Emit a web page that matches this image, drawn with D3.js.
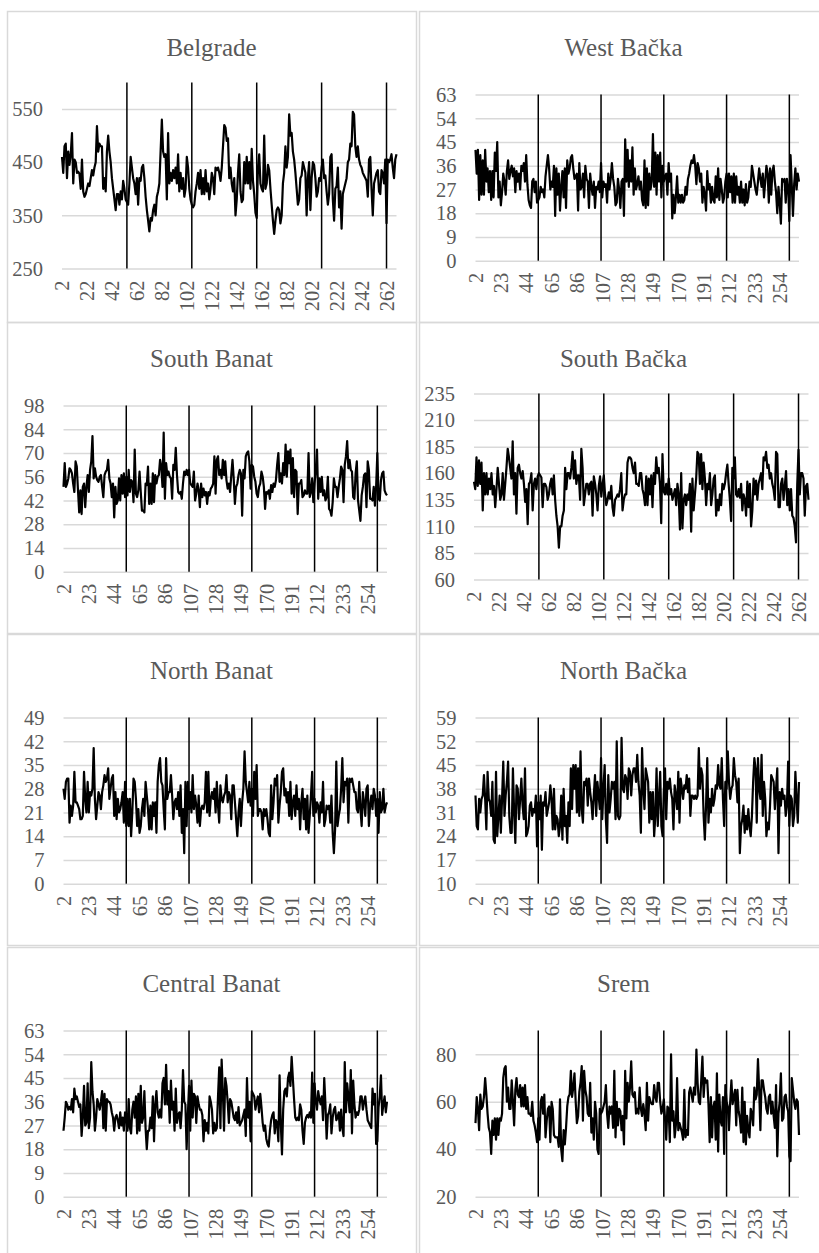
<!DOCTYPE html>
<html>
<head>
<meta charset="utf-8">
<script src="https://cdn.jsdelivr.net/npm/d3@7"></script>
<style>
  body { margin: 0; background: #fff; }
  svg { display: block; }
  svg text { font-family: "Liberation Serif", "Times New Roman", serif; }
</style>
</head>
<body>
<svg></svg>
<script>
///////////////////////////////////////////
///////////////////////////////////////////
// Data (weekly series, weeks 2..270)
var weeks = d3.range(2, 271);
var yearMarks = [54, 106, 158, 210, 262];
var ticksBy20 = [2, 22, 42, 62, 82, 102, 122, 142, 162, 182, 202, 222, 242, 262];
var ticksBy21 = [2, 23, 44, 65, 86, 107, 128, 149, 170, 191, 212, 233, 254];

var belgrade = [
  460, 430, 480, 485, 420, 470, 445, 465, 505, 410,
  455, 450, 430, 432, 428, 400, 455, 395, 385, 390,
  400, 410, 405, 420, 435, 425, 440, 450, 518, 470,
  485, 480, 480, 400, 420, 395, 470, 500, 470, 450,
  420, 400, 380, 360, 390, 390, 370, 395, 380, 415,
  400, 380, 375, 370, 410, 460, 440, 420, 410, 390,
  420, 370, 420, 415, 440, 445, 420, 385, 360, 340,
  320, 345, 340, 360, 370, 350, 385, 395, 410, 470,
  530, 470, 460, 465, 380, 505, 410, 430, 415, 435,
  420, 440, 410, 465, 395, 430, 400, 420, 385, 400,
  460, 440, 400, 380, 370, 365, 370, 395, 410, 430,
  400, 435, 390, 420, 390, 435, 395, 410, 380, 400,
  430, 420, 390, 440, 435, 440, 430, 415, 440, 480,
  520, 515, 490, 495, 420, 440, 410, 395, 420, 350,
  380, 430, 465, 395, 375, 380, 450, 410, 460, 410,
  450, 400, 475, 415, 390, 355, 345, 440, 465, 410,
  400, 395, 500, 400, 410, 445, 435, 400, 370, 340,
  315, 340, 360, 365, 360, 335, 350, 410, 430, 480,
  440, 460, 540, 500, 505, 470, 455, 430, 400, 370,
  380, 420, 425, 450, 440, 430, 350, 420, 450, 360,
  420, 450, 445, 420, 385, 395, 420, 415, 440, 455,
  420, 425, 395, 370, 390, 460, 465, 380, 340, 400,
  405, 440, 365, 395, 325, 390, 400, 410, 420, 450,
  455, 485, 480, 545, 540, 480, 460, 480, 455, 445,
  440, 430, 425, 420, 415, 385, 455, 460, 400, 350,
  410, 420, 430, 435, 395, 390, 435, 430, 410, 455,
  335, 455, 450, 455, 465, 440, 420, 455, 465
];

var westBacka = [
  42, 33, 42, 23, 40, 25, 38, 25, 42, 30,
  35, 26, 34, 23, 34, 24, 41, 34, 45, 24,
  30, 21, 26, 33, 30, 25, 34, 38, 31, 34,
  36, 32, 35, 26, 34, 30, 33, 27, 36, 34,
  37, 30, 40, 29, 23, 21, 20, 30, 31, 26,
  30, 22, 23, 24, 28, 26, 27, 24, 32, 36,
  40, 35, 27, 30, 28, 36, 17, 35, 25, 33,
  19, 28, 34, 24, 35, 20, 38, 33, 35, 39,
  40, 35, 31, 32, 33, 19, 37, 27, 28, 33,
  24, 36, 31, 30, 20, 33, 28, 25, 30, 20,
  28, 27, 30, 26, 37, 24, 30, 28, 29, 22,
  33, 27, 31, 37, 31, 28, 21, 22, 31, 27,
  20, 30, 31, 17, 46, 30, 42, 28, 38, 30,
  43, 25, 35, 27, 29, 32, 27, 30, 23, 21,
  38, 20, 35, 21, 33, 27, 30, 48, 28, 41,
  25, 40, 30, 41, 24, 36, 30, 32, 33, 25,
  37, 30, 33, 16, 25, 18, 24, 32, 22, 25,
  22, 25, 22, 23, 28, 25, 31, 33, 36, 38,
  37, 40, 36, 29, 37, 35, 30, 33, 22, 28,
  25, 19, 34, 27, 29, 22, 28, 23, 22, 32,
  24, 35, 23, 31, 27, 22, 24, 30, 33, 24,
  33, 26, 32, 22, 33, 22, 32, 25, 28, 22,
  30, 22, 27, 21, 29, 22, 24, 30, 28, 36,
  33, 30, 27, 25, 30, 35, 31, 28, 33, 24,
  30, 36, 33, 22, 35, 25, 34, 36, 30, 26,
  18, 28, 22, 14, 31, 30, 31, 22, 31, 28,
  15, 40, 29, 17, 29, 35, 27, 33, 30
];

var southBanat = [
  50, 64, 50, 52, 55, 61, 60, 58, 52, 47,
  65, 62, 48, 35, 48, 34, 50, 52, 38, 50,
  57, 47, 60, 65, 80, 55, 61, 56, 54, 53,
  56, 57, 50, 44, 57, 59, 60, 66, 55, 52,
  44, 52, 32, 50, 40, 42, 55, 42, 57, 46,
  58, 44, 56, 45, 60, 47, 54, 53, 41, 72,
  46, 44, 48, 59, 47, 36, 36, 35, 52, 51,
  62, 40, 52, 40, 58, 41, 57, 52, 56, 57,
  66, 62, 50, 82, 43, 64, 57, 59, 56, 55,
  43, 63, 60, 73, 57, 47, 46, 47, 43, 52,
  59, 57, 60, 57, 60, 52, 51, 50, 59, 42,
  46, 52, 48, 38, 52, 44, 49, 45, 47, 40,
  47, 45, 49, 50, 52, 68, 46, 66, 68, 57,
  60, 55, 66, 57, 65, 54, 49, 52, 47, 57,
  66, 55, 40, 50, 52, 57, 60, 58, 33, 60,
  55, 68, 70, 71, 65, 49, 63, 62, 56, 53,
  46, 44, 50, 52, 59, 56, 50, 37, 47, 46,
  48, 43, 51, 47, 52, 50, 54, 63, 70, 53,
  58, 52, 64, 57, 75, 56, 71, 64, 72, 46,
  67, 44, 60, 59, 34, 52, 52, 54, 44, 45,
  48, 46, 46, 70, 44, 47, 55, 41, 52, 60,
  72, 43, 55, 47, 56, 45, 48, 42, 44, 56,
  37, 36, 33, 41, 55, 50, 50, 44, 50, 55,
  62, 60, 41, 63, 68, 77, 61, 66, 60, 59,
  44, 43, 58, 65, 42, 36, 30, 45, 50, 57,
  58, 38, 65, 60, 43, 43, 42, 50, 39, 50,
  70, 43, 42, 54, 58, 59, 48, 46, 45
];

var southBacka = [
  152, 145, 175, 148, 172, 150, 170, 125, 160, 140,
  160, 140, 155, 145, 160, 140, 148, 128, 145, 165,
  150, 135, 140, 160, 135, 150, 165, 183, 175, 165,
  155, 190, 140, 160, 122, 165, 168, 160, 155, 162,
  150, 133, 145, 112, 150, 152, 160, 125, 150, 155,
  145, 157, 160, 158, 156, 128, 150, 150, 147, 135,
  140, 150, 155, 140, 158, 135, 120, 110, 90, 110,
  110, 120, 125, 165, 145, 160, 160, 155, 165, 180,
  155, 172, 150, 158, 158, 135, 183, 165, 130, 140,
  150, 150, 140, 150, 152, 120, 157, 150, 140, 125,
  148, 157, 138, 150, 158, 140, 130, 135, 142, 136,
  148, 128, 120, 135, 137, 140, 138, 145, 160, 125,
  135, 140, 140, 170, 175, 175, 173, 165, 160, 170,
  150, 150, 148, 160, 160, 145, 140, 130, 157, 130,
  155, 140, 158, 128, 160, 150, 175, 160, 165, 150,
  113, 178, 143, 140, 150, 140, 155, 140, 145, 135,
  140, 145, 130, 150, 140, 107, 160, 108, 135, 140,
  130, 140, 135, 150, 105, 155, 125, 140, 155, 180,
  178, 150, 178, 145, 170, 155, 130, 150, 145, 160,
  130, 140, 155, 158, 120, 135, 125, 140, 130, 150,
  145, 150, 160, 168, 150, 135, 115, 165, 155, 175,
  140, 138, 145, 137, 150, 125, 140, 135, 120, 152,
  128, 150, 110, 125, 155, 140, 153, 135, 150, 155,
  160, 145, 175, 172, 180, 165, 168, 155, 160, 150,
  145, 135, 180, 178, 128, 128, 150, 155, 135, 148,
  162, 130, 145, 125, 145, 120, 118, 110, 95, 150,
  182, 140, 160, 160, 155, 120, 148, 150, 135
];

var northBanat = [
  28, 25, 30, 31, 31, 18, 23, 20, 23, 33,
  24, 24, 23, 22, 19, 19, 20, 33, 25, 21,
  30, 21, 27, 26, 28, 40, 25, 19, 23, 27,
  26, 22, 27, 29, 32, 30, 31, 34, 25, 28,
  31, 32, 20, 27, 19, 25, 21, 22, 24, 27,
  18, 30, 17, 25, 17, 25, 14, 21, 31, 30,
  25, 17, 22, 15, 17, 22, 25, 20, 30, 26,
  22, 16, 23, 16, 24, 20, 24, 15, 30, 35,
  37, 30, 29, 22, 16, 37, 25, 27, 27, 32,
  26, 19, 24, 25, 22, 27, 20, 29, 15, 22,
  9, 30, 17, 30, 22, 27, 21, 32, 22, 26,
  23, 18, 26, 17, 22, 23, 22, 24, 33, 21,
  33, 20, 25, 27, 25, 28, 21, 30, 23, 18,
  29, 25, 24, 26, 27, 32, 24, 27, 26, 19,
  29, 29, 24, 19, 14, 21, 25, 17, 24, 28,
  39, 30, 27, 24, 30, 23, 28, 20, 33, 25,
  35, 20, 22, 22, 21, 16, 22, 20, 22, 19,
  15, 14, 29, 19, 24, 31, 29, 32, 18, 23,
  27, 33, 34, 26, 28, 24, 27, 20, 30, 19,
  24, 26, 20, 29, 22, 25, 16, 24, 28, 19,
  25, 16, 26, 15, 20, 26, 33, 20, 25, 21,
  24, 23, 18, 24, 21, 30, 17, 19, 23, 22,
  23, 18, 26, 15, 9, 16, 36, 17, 20, 22,
  28, 37, 24, 30, 29, 31, 18, 31, 30, 31,
  29, 27, 27, 22, 21, 30, 22, 17, 27, 24,
  20, 28, 29, 17, 23, 26, 22, 28, 26, 20,
  25, 15, 27, 21, 22, 28, 21, 23, 24
];

var northBacka = [
  36, 27, 26, 35, 31, 35, 36, 42, 35, 26,
  43, 35, 34, 30, 40, 23, 22, 43, 24, 30,
  36, 25, 35, 46, 30, 36, 40, 46, 30, 25,
  25, 44, 31, 22, 39, 38, 29, 35, 41, 33,
  29, 44, 24, 25, 27, 33, 34, 30, 32, 31,
  36, 21, 34, 29, 36, 20, 34, 33, 37, 30,
  32, 34, 39, 35, 26, 38, 26, 30, 29, 24,
  27, 36, 23, 38, 27, 30, 22, 34, 27, 44,
  32, 45, 38, 45, 31, 44, 30, 49, 32, 28,
  40, 39, 41, 33, 41, 37, 34, 29, 36, 42,
  30, 40, 36, 32, 47, 29, 38, 45, 29, 22,
  42, 31, 35, 40, 38, 40, 29, 52, 30, 29,
  30, 53, 38, 37, 42, 41, 35, 44, 43, 36,
  42, 44, 44, 40, 48, 40, 36, 25, 50, 38,
  32, 44, 42, 40, 28, 37, 29, 37, 24, 30,
  44, 27, 35, 43, 27, 24, 37, 44, 29, 40,
  38, 41, 37, 35, 26, 39, 36, 32, 43, 28,
  41, 38, 35, 39, 38, 42, 37, 41, 30, 36,
  36, 35, 36, 35, 36, 50, 38, 44, 42, 30,
  23, 33, 47, 28, 35, 31, 38, 33, 35, 39,
  38, 45, 39, 38, 47, 35, 27, 40, 38, 49,
  40, 35, 38, 39, 47, 42, 40, 34, 41, 19,
  27, 29, 33, 25, 30, 26, 32, 27, 24, 30,
  40, 47, 44, 28, 47, 38, 35, 48, 30, 40,
  35, 24, 28, 26, 33, 42, 41, 40, 32, 38,
  44, 19, 37, 33, 38, 35, 36, 30, 33, 46,
  27, 36, 35, 27, 30, 43, 35, 28, 40
];

var centralBanat = [
  25, 30, 36, 35, 33, 34, 33, 37, 32, 41,
  37, 38, 36, 34, 35, 23, 30, 42, 27, 28,
  43, 26, 30, 51, 40, 35, 25, 30, 37, 35,
  33, 36, 40, 26, 39, 25, 37, 36, 36, 35,
  32, 30, 25, 30, 31, 29, 26, 32, 27, 30,
  25, 32, 29, 25, 37, 26, 24, 33, 36, 30,
  38, 24, 39, 25, 42, 28, 30, 40, 26, 18,
  25, 25, 30, 26, 38, 21, 35, 40, 32, 30,
  33, 30, 43, 45, 35, 50, 35, 40, 28, 44,
  33, 36, 25, 41, 28, 31, 32, 26, 33, 48,
  36, 35, 18, 31, 42, 25, 44, 30, 39, 38,
  28, 38, 35, 33, 33, 31, 21, 29, 25, 28,
  24, 38, 36, 33, 24, 28, 25, 26, 38, 49,
  26, 52, 40, 25, 45, 42, 36, 28, 37, 36,
  33, 30, 29, 32, 28, 34, 27, 28, 29, 31,
  33, 23, 45, 30, 36, 21, 40, 39, 38, 33,
  36, 38, 32, 39, 34, 28, 25, 27, 22, 20,
  19, 25, 29, 31, 32, 24, 29, 28, 21, 46,
  28, 16, 33, 40, 41, 38, 45, 47, 42, 53,
  45, 37, 30, 29, 30, 29, 35, 33, 25, 20,
  28, 30, 31, 30, 32, 30, 47, 28, 43, 36,
  33, 40, 37, 35, 38, 29, 45, 35, 22, 31,
  32, 35, 24, 30, 33, 34, 29, 30, 32, 25,
  33, 26, 23, 51, 32, 43, 38, 32, 48, 24,
  44, 35, 30, 32, 31, 33, 38, 38, 33, 36,
  38, 33, 29, 28, 27, 26, 41, 35, 39, 20,
  21, 34, 38, 46, 31, 35, 38, 32, 36
];

var srem = [
  51, 62, 57, 48, 63, 57, 58, 62, 70, 63,
  55, 49, 47, 38, 52, 46, 53, 44, 53, 46,
  53, 52, 55, 70, 74, 75, 60, 66, 57, 57,
  69, 60, 50, 65, 70, 63, 62, 67, 58, 66,
  58, 67, 57, 62, 55, 55, 54, 60, 52, 50,
  47, 43, 53, 44, 60, 62, 55, 63, 45, 52,
  57, 58, 43, 60, 57, 46, 45, 45, 45, 41,
  61, 40, 35, 48, 42, 49, 58, 62, 63, 73,
  62, 66, 72, 60, 51, 54, 64, 68, 75, 52,
  73, 65, 62, 55, 54, 68, 47, 53, 44, 60,
  55, 40, 38, 57, 55, 56, 58, 60, 67, 55,
  49, 58, 55, 58, 49, 73, 45, 60, 50, 57,
  56, 48, 54, 42, 73, 53, 68, 60, 66, 77,
  63, 62, 64, 55, 57, 55, 66, 57, 54, 59,
  55, 48, 68, 52, 62, 60, 59, 59, 67, 62,
  60, 68, 68, 60, 55, 57, 61, 53, 44, 58,
  57, 43, 80, 52, 56, 45, 50, 70, 48, 51,
  49, 47, 44, 65, 45, 48, 46, 64, 66, 63,
  60, 66, 63, 82, 68, 60, 59, 69, 79, 62,
  70, 68, 69, 59, 43, 62, 45, 58, 60, 44,
  72, 39, 63, 52, 50, 62, 38, 67, 60, 58,
  48, 60, 69, 59, 62, 65, 50, 65, 56, 53,
  47, 66, 43, 60, 42, 54, 48, 45, 57, 55,
  50, 66, 61, 63, 78, 65, 48, 69, 69, 65,
  62, 57, 55, 62, 63, 55, 60, 54, 49, 67,
  37, 55, 60, 72, 52, 53, 62, 63, 58, 56,
  37, 35, 70, 65, 60, 57, 61, 60, 46
];

// value-axis tick labels for each chart
var belgradeTicks = [250, 350, 450, 550];
var westBackaTicks = [0, 9, 18, 27, 36, 45, 54, 63];
var southBanatTicks = [0, 14, 28, 42, 56, 70, 84, 98];
var southBackaTicks = [60, 85, 110, 135, 160, 185, 210, 235];
var northBanatTicks = [0, 7, 14, 21, 28, 35, 42, 49];
var northBackaTicks = [10, 17, 24, 31, 38, 45, 52, 59];
var centralBanatTicks = [0, 9, 18, 27, 36, 45, 54, 63];
var sremTicks = [20, 40, 60, 80];

///////////////////////////////////////////
///////////////////////////////////////////
// Layout Setting
var svgWidth = 819,
    svgHeight = 1253;

var cellWidth = 409,
    cellHeight = 311,
    colX = [7, 419],
    rowY = [11, 322, 634, 947];

// plot boxes inside a chart cell (two variants, as in the source charts)
var wideBox = {left: 55, right: 389.5, top: 71.5, bottom: 257.5},
    normalBox = {left: 56.5, right: 380, top: 83.5, bottom: 249.7};

var gridColor = "#d9d9d9",
    textColor = "#595959",
    fontFamily = "'Liberation Serif', 'Times New Roman', serif",
    tickFont = 20.5;

var panels = [
  {title: "Belgrade",      values: belgrade,     yTicks: belgradeTicks,     yMax: 600, xTicks: ticksBy20, box: wideBox,   col: 0, row: 0},
  {title: "West Bačka",    values: westBacka,    yTicks: westBackaTicks,    yMax: 63,  xTicks: ticksBy21, box: normalBox, col: 1, row: 0},
  {title: "South Banat",   values: southBanat,   yTicks: southBanatTicks,   yMax: 98,  xTicks: ticksBy21, box: normalBox, col: 0, row: 1},
  {title: "South Bačka",   values: southBacka,   yTicks: southBackaTicks,   yMax: 235, xTicks: ticksBy20, box: wideBox,   col: 1, row: 1},
  {title: "North Banat",   values: northBanat,   yTicks: northBanatTicks,   yMax: 49,  xTicks: ticksBy21, box: normalBox, col: 0, row: 2},
  {title: "North Bačka",   values: northBacka,   yTicks: northBackaTicks,   yMax: 59,  xTicks: ticksBy21, box: normalBox, col: 1, row: 2},
  {title: "Central Banat", values: centralBanat, yTicks: centralBanatTicks, yMax: 63,  xTicks: ticksBy21, box: normalBox, col: 0, row: 3},
  {title: "Srem",          values: srem,         yTicks: sremTicks,         yMax: 90,  xTicks: ticksBy21, box: normalBox, col: 1, row: 3}
];

///////////////////////////////////////////
///////////////////////////////////////////
// Initialize Layout
var svg = d3.select("svg").attr("width", svgWidth).attr("height", svgHeight);

panels.forEach(drawPanel);

function drawPanel(p) {
  var b = p.box;
  var g = svg.append("g")
    .attr("transform", "translate(" + [colX[p.col], rowY[p.row]] + ")");

  // chart area border
  g.append("rect")
    .attr("x", 0.5).attr("y", 0.5)
    .attr("width", cellWidth).attr("height", cellHeight)
    .attr("fill", "none").attr("stroke", gridColor).attr("stroke-width", 1.5);

  // title
  g.append("text")
    .attr("x", cellWidth / 2).attr("y", 44.5)
    .attr("text-anchor", "middle")
    .style("font-family", fontFamily).style("font-size", "25px")
    .attr("fill", textColor)
    .text(p.title);

  var x = d3.scalePoint().domain(weeks).range([b.left, b.right]);
  var y = d3.scaleLinear().domain([p.yTicks[0], p.yMax]).range([b.bottom, b.top]);

  // value axis + gridlines
  var yAxis = g.append("g")
    .attr("transform", "translate(" + b.left + ",0)")
    .call(d3.axisLeft(y).tickValues(p.yTicks).tickSize(-(b.right - b.left)).tickPadding(19));
  yAxis.select(".domain").remove();
  yAxis.selectAll("line").attr("stroke", gridColor).attr("stroke-width", 1.5);
  yAxis.selectAll("text")
    .style("font-family", fontFamily).style("font-size", tickFont + "px")
    .attr("fill", textColor).attr("dy", "0.33em");

  // category axis, rotated labels
  var xAxis = g.append("g")
    .attr("transform", "translate(0," + b.bottom + ")")
    .call(d3.axisBottom(x).tickValues(p.xTicks).tickSize(0).tickPadding(0));
  xAxis.select(".domain").remove();
  xAxis.selectAll("text")
    .attr("transform", "rotate(-90)")
    .attr("text-anchor", "end")
    .attr("x", -12).attr("y", 0).attr("dy", "0.33em")
    .style("font-family", fontFamily).style("font-size", tickFont + "px")
    .attr("fill", textColor);

  // year separators
  g.selectAll(".year-mark")
    .data(yearMarks)
    .enter().append("line")
    .classed("year-mark", true)
    .attr("x1", function(d){ return x(d); })
    .attr("x2", function(d){ return x(d); })
    .attr("y1", b.top).attr("y2", b.bottom)
    .attr("stroke", "#000").attr("stroke-width", 1.5);

  // the series
  var line = d3.line()
    .x(function(d, i){ return x(weeks[i]); })
    .y(function(d){ return y(d); });

  g.append("path")
    .datum(p.values)
    .attr("d", line)
    .attr("fill", "none")
    .attr("stroke", "#000")
    .attr("stroke-width", 2.2)
    .attr("stroke-linejoin", "round");
}
</script>
</body>
</html>
